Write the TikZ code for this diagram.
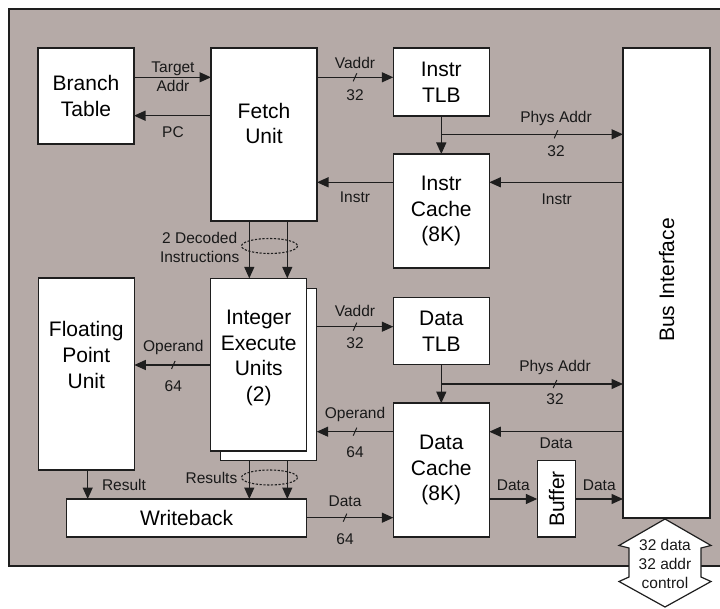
\documentclass[tikz,border=0pt]{standalone}
\usepackage{fontspec}
\setmainfont{Liberation Sans}
\usetikzlibrary{arrows.meta,calc}
\definecolor{bgc}{RGB}{181,170,167}
\definecolor{lnc}{RGB}{30,30,30}
\tikzset{
  blk/.style={draw=lnc, line width=1.4pt, fill=white, inner sep=0pt, outer sep=0pt, rectangle},
  big/.style={font=\fontsize{21}{25.6}\selectfont, align=center, inner sep=0pt, text=black},
  lbl/.style={font=\fontsize{15.5}{19}\selectfont, align=center, inner sep=0pt, text=black!90},
  conn/.style={draw=lnc, line width=1.3pt, -{Triangle[length=11.5pt,width=10pt]}},
  plain/.style={draw=lnc, line width=1.3pt},
  tk/.style={draw=lnc, line width=1pt},
  grp/.style={draw=lnc, line width=1.1pt, dash pattern=on 2.2pt off 1.6pt},
}
\newcommand\tickmark[2]{\draw[tk] (#1-1.8,#2+4) -- (#1+1.8,#2-4);}
\begin{document}
\begin{tikzpicture}[x=1pt,y=-1pt]
\useasboundingbox (0,0) rectangle (720,609);
\fill[bgc] (9,9) rectangle (725,566);
\draw[lnc, line width=1.2pt] (725,9) -- (9,9) -- (9,566) -- (725,566);

% blocks
\node[blk, big, minimum width=96, minimum height=96] (branch) at (86,96) {Branch\\Table};
\node[blk, minimum width=106, minimum height=173] (fetch) at (264,134.5) {};
\node[big] (fetchtxt) at (264,123.3) {Fetch\\Unit};
\node[blk, big, minimum width=96, minimum height=68] (itlb) at (441.3,82) {Instr\\TLB};
\node[blk, big, minimum width=96, minimum height=114] (icache) at (441.3,211) {Instr\\Cache\\(8K)};
\node[blk, minimum width=87, minimum height=470] (bus) at (666.5,283) {};
\node[big, rotate=90] (bustxt) at (666.5,280) {Bus Interface};
\node[blk, minimum width=96, minimum height=192] (fpu) at (86.3,374) {};
\node[big] (fputxt) at (86.3,355) {Floating\\Point\\Unit};
\node[blk, minimum width=96, minimum height=172.4] (intb) at (268.7,374.5) {};
\node[blk, minimum width=96, minimum height=172.7] (intf) at (258.7,364.7) {};
\node[big] (inttxt) at (258.7,358) {Integer\\Execute\\Units\\(2)};
\node[blk, big, minimum width=96, minimum height=66.6] (dtlb) at (441.3,331) {Data\\TLB};
\node[blk, big, minimum width=96, minimum height=133.7] (dcache) at (441.3,470) {Data\\Cache\\(8K)};
\node[blk, minimum width=38.4, minimum height=76.3] (buffer) at (556.5,498.8) {};
\node[big, rotate=90] (buftxt) at (556.5,499) {Buffer};
\node[blk, big, minimum width=240, minimum height=38] (wb) at (186.7,518) {Writeback};

% external bus double arrow
\draw[lnc, line width=1.2pt, fill=white] (665,519) -- (711,545.5) -- (701,548) -- (701,577) -- (711,581.5) -- (665,607) -- (619,581.5) -- (629,577) -- (629,548) -- (619,545.5) -- cycle;
\node[lbl] (ext) at (665,563.5) {32 data\\32 addr\\control};

% fetch <-> branch table
\draw[conn] (branch.east |- 0,77.3) -- (fetch.west |- 0,77.3);
\node[lbl] (ta) at (173,77) {Target\\Addr};
\draw[conn] (fetch.west |- 0,115.7) -- (branch.east |- 0,115.7);
\node[lbl] (pc) at (173,131.7) {PC};

% instruction side
\draw[conn] (fetch.east |- 0,77.3) -- (itlb.west |- 0,77.3);
\node[lbl] (va1) at (355,63.3) {Vaddr};
\tickmark{355}{77.3}
\node[lbl] (va1w) at (355,95) {32};
\draw[conn] (itlb.south) -- (icache.north);
\coordinate (j1) at (441.3,134.3);
\draw[conn] (j1) -- (bus.west |- j1);
\node[lbl] (pa1) at (556,118) {Phys Addr};
\tickmark{556}{134.3}
\node[lbl] (pa1w) at (556,150.7) {32};
\draw[conn] (bus.west |- 0,182.3) -- (icache.east |- 0,182.3);
\node[lbl] (in2) at (556.7,199.3) {Instr};
\draw[conn] (icache.west |- 0,182.3) -- (fetch.east |- 0,182.3);
\node[lbl] (in1) at (355,197) {Instr};

% decoded instructions
\draw[conn] (fetch.south -| 249.3,0) -- (intf.north -| 249.3,0);
\draw[conn] (fetch.south -| 287.3,0) -- (intf.north -| 287.3,0);
\draw[grp] (269.5,246) ellipse [x radius=28, y radius=7.5];
\node[lbl, anchor=east] (dec) at (239.5,247.3) {2 Decoded\\Instructions};

% data side
\draw[conn] (intb.east |- 0,326.7) -- (dtlb.west |- 0,326.7);
\node[lbl] (va2) at (355,311) {Vaddr};
\tickmark{355}{326.7}
\node[lbl] (va2w) at (355,343.3) {32};
\draw[conn] (dtlb.south) -- (dcache.north);
\coordinate (j2) at (441.3,384);
\draw[conn] (j2) -- (bus.west |- j2);
\node[lbl] (pa2) at (555,367.7) {Phys Addr};
\tickmark{555}{384}
\node[lbl] (pa2w) at (555,399.3) {32};
\draw[conn] (bus.west |- 0,431.7) -- (dcache.east |- 0,431.7);
\node[lbl] (dt1) at (556,443.3) {Data};
\draw[conn] (dcache.west |- 0,431.7) -- (intb.east |- 0,431.7);
\node[lbl] (op2) at (355,414.3) {Operand};
\tickmark{355}{431.7}
\node[lbl] (op2w) at (355,452.3) {64};
\draw[conn] (dcache.east |- 0,499) -- (buffer.west |- 0,499);
\node[lbl] (dt2) at (513.3,485) {Data};
\draw[conn] (buffer.east |- 0,499) -- (bus.west |- 0,499);
\node[lbl] (dt3) at (599.3,485) {Data};

% floating point
\draw[conn] (intf.west |- 0,365) -- (fpu.east |- 0,365);
\node[lbl] (op1) at (173.3,347.7) {Operand};
\tickmark{173.3}{365}
\node[lbl] (op1w) at (173.3,385.7) {64};
\draw[conn] (fpu.south -| 87.7,0) -- (wb.north -| 87.7,0);
\node[lbl] (res) at (124,485) {Result};

% results
\draw[conn] (intb.south -| 249.3,0) -- (wb.north -| 249.3,0);
\draw[conn] (intb.south -| 287.3,0) -- (wb.north -| 287.3,0);
\draw[grp] (269.5,477.5) ellipse [x radius=28, y radius=7.5];
\node[lbl, anchor=east] (ress) at (237.5,477.5) {Results};

% writeback to data cache
\draw[conn] (wb.east |- 0,517.7) -- (dcache.west |- 0,517.7);
\node[lbl] (dt4) at (345,501.7) {Data};
\tickmark{345}{517.7}
\node[lbl] (dt4w) at (345,539.3) {64};
\end{tikzpicture}
\end{document}
